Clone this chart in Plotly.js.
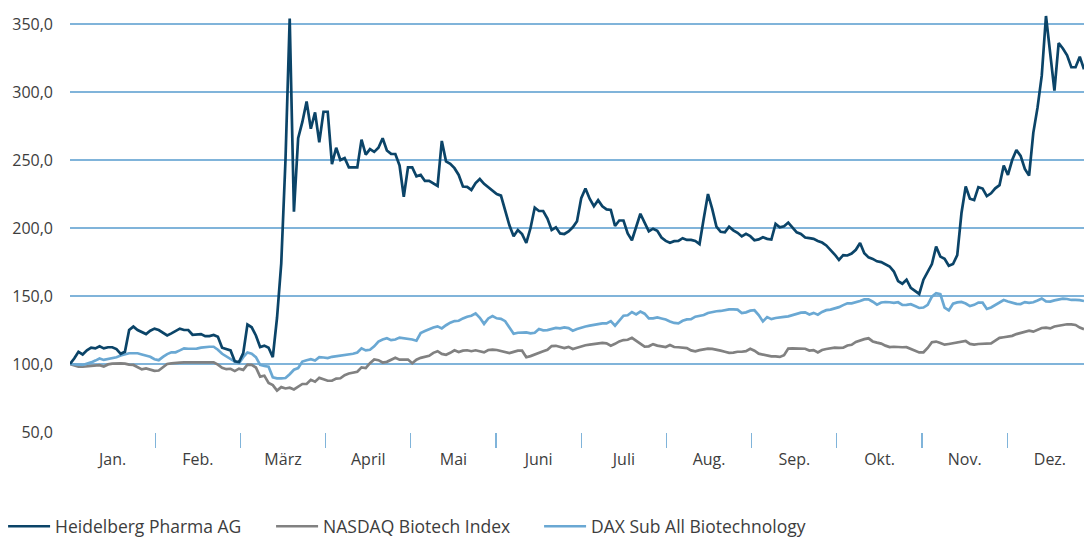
<!DOCTYPE html>
<html>
<head>
<meta charset="utf-8">
<script src="https://cdn.plot.ly/plotly-3.0.1.min.js"></script>
<style>
  html, body { margin: 0; padding: 0; background: #ffffff; }
  #chart { width: 1084px; height: 540px; }
</style>
</head>
<body>
<div id="chart"></div>
<script>
// Month labels (each month gets an equal-width slot on the axis)
const months = ["Jan.", "Feb.", "März", "April", "Mai", "Juni", "Juli", "Aug.", "Sep.", "Okt.", "Nov.", "Dez."];

// Series names
const seriesNames = ["Heidelberg Pharma AG", "NASDAQ Biotech Index", "DAX Sub All Biotechnology"];

// Indexed performance (start = 100), evenly spaced observations from early Jan. to late Dez.
const heidelberg = [
  100, 104, 109, 107, 110, 112, 111.5, 113, 111.5, 112.3, 112.3, 111, 107.5, 109, 125, 127.5, 125, 123.5, 122, 124.5,
  126, 125, 123, 121, 122.5, 124.5, 126, 125, 125, 121.5, 121.5, 122, 120.5, 120.5, 121.3, 120, 112, 111, 110, 102,
  101.5, 108, 129, 127, 121, 112.5, 113.5, 112, 105, 134, 174, 250, 354, 212, 266, 278, 293, 273, 285, 263,
  285.5, 285.5, 247, 259, 250, 251.5, 244.6, 244.6, 244.6, 265, 254, 258, 256, 259, 266, 257, 254.5, 254.4, 246, 223,
  244.6, 244.6, 238, 239, 234.6, 234.6, 233, 230.9, 264, 249, 247.2, 244, 239, 230.5, 230.3, 228, 233, 236, 232.5, 230,
  228, 225, 223.8, 213, 202, 194, 198.5, 195.5, 189, 200, 215, 212.5, 212.5, 207, 198.5, 200.5, 196, 195.6, 197.5, 200.5,
  205, 222, 229, 221.5, 216, 220.5, 216, 213.7, 213.3, 201.5, 205.5, 205.5, 196, 191, 200, 210.5, 204, 197.5, 199.5, 198,
  193, 190.5, 189.2, 190.3, 190.5, 192.5, 191.2, 191.2, 190.5, 188.2, 207, 225, 214, 201, 197.2, 196.8, 201, 198.3, 196.5, 193.8,
  195.7, 194, 191, 191.6, 193.2, 192, 191.5, 203, 200.5, 201.3, 204, 200.5, 196.8, 195.6, 193, 192.5, 192, 190.5, 189.3, 187.2,
  184.2, 180.5, 176.5, 180, 179.8, 181.2, 184, 189, 181.5, 178.4, 177.3, 175.5, 174.9, 173.4, 171.7, 168, 161, 159, 162, 156,
  153.4, 151.5, 162, 167.5, 173.5, 186.3, 179, 177.3, 172.2, 173.5, 180, 211, 230.5, 221.5, 220.5, 230, 229, 223.5, 225.5, 229.2,
  231.5, 246, 239, 250, 257.3, 253, 243.5, 238.5, 270, 288.5, 312, 355.9, 330, 301, 336, 332, 327, 318.2, 318.2, 326,
  316.7
];

const nasdaq = [
  100, 99, 98, 98, 98.3, 98.8, 99.1, 99.2, 98.2, 99.7, 100.3, 100.5, 100.5, 100.3, 99.5, 99.3, 97.5, 96, 96.7, 96.1,
  95, 95.2, 97.4, 100, 100.5, 100.5, 101, 101.2, 101.2, 101.2, 101.2, 101.2, 101.5, 101.7, 101.3, 99.5, 97.2, 96.2, 96.5, 94.8,
  96.6, 95.7, 99.5, 99.3, 97.4, 90.7, 91.4, 86, 84.5, 80.5, 83, 82, 82.6, 81.3, 83, 85.3, 85.3, 88.4, 87, 89.8,
  88.8, 87.7, 87.7, 89.3, 89.5, 91.8, 93, 93.8, 94.3, 97.5, 97, 100.6, 103.4, 102.8, 101.1, 101.6, 102.8, 104.6, 103.2, 103.1,
  103.3, 100.6, 103.2, 104.5, 105.1, 106, 108.2, 109.4, 107.4, 106.8, 108.2, 110.1, 108.8, 109.8, 110.1, 109.4, 110.1, 109.3, 108.6, 110.3,
  110.6, 110.3, 109.4, 108.8, 108, 108.9, 109.8, 109.8, 105, 105.8, 107.1, 108.6, 109.3, 110.5, 113.2, 113.4, 112.8, 111.7, 112.6, 111,
  111.9, 113, 113.8, 114.2, 114.6, 115.3, 115.5, 115.2, 113.5, 114.8, 116.6, 117.6, 117.8, 119.2, 116.8, 115, 112.7, 113, 114.6, 113.5,
  112.8, 112.5, 114, 112.5, 112.3, 112.1, 111.7, 110, 109.3, 110.2, 110.8, 111.3, 111.1, 110.2, 109.8, 109, 108.2, 108.4, 109, 109,
  109.5, 111.2, 109.8, 107.6, 107, 106.4, 105.6, 105.6, 105.2, 106.5, 111.3, 111.5, 111.5, 111.5, 111.2, 109.9, 110.2, 108.5, 110.3, 111,
  111.5, 112, 111.8, 112, 113.6, 114.1, 116.2, 117.3, 118.3, 118.9, 116.6, 115.7, 115, 113.5, 112.4, 112.7, 112.3, 112.3, 112.4, 111.2,
  109.8, 108.5, 108.6, 111.8, 116, 116.5, 115.5, 114.2, 114.7, 115.3, 116, 116.5, 116.9, 114.8, 114.3, 114.7, 114.7, 114.9, 115.2, 117.2,
  119.2, 119.7, 120.3, 120.7, 122, 122.9, 123.8, 124.5, 123.8, 125.3, 126.5, 126.7, 126.2, 127.6, 128.3, 128.7, 129.2, 129.1, 128.7, 126.8,
  125.5
];

const daxBiotech = [
  100, 100, 99.5, 99.3, 100, 101.2, 102.5, 104, 103, 103.5, 104.2, 105, 106.2, 107, 107.9, 107.9, 107.9, 107, 106, 105.3,
  103.5, 102.8, 105.2, 107.3, 108.6, 108.6, 110, 111.5, 111.2, 111, 111.3, 112, 112.5, 112.7, 112.7, 110.5, 107.5, 105.5, 104, 101.8,
  100.5, 105, 108.5, 107.5, 105, 99.3, 98.5, 98, 90.2, 89.5, 89.5, 89.7, 92.5, 95.8, 97, 101.8, 102.8, 103.6, 102.5, 105,
  104.8, 104.3, 105.3, 105.8, 106, 106.6, 106.8, 107.5, 108.5, 111.5, 110, 110.5, 113, 116.5, 118, 118.9, 117.5, 118, 119.4, 119,
  118.5, 118, 117.1, 122.8, 124.2, 125.7, 126.8, 127.7, 126.2, 128.5, 130.4, 131.6, 131.8, 133.5, 134.8, 135.5, 137.2, 134, 129.5, 133.5,
  135.3, 133.6, 133.2, 131.5, 127, 122.2, 123, 123.3, 123.3, 122.6, 123, 125.8, 124.8, 124.9, 125.8, 126.6, 126.2, 126.9, 126.4, 124.5,
  125.8, 126.8, 127.6, 128.2, 128.8, 129.6, 129.9, 129.9, 131.5, 128.2, 131.8, 135.5, 135.8, 138.2, 136.5, 138.5, 137, 133.6, 133.6, 134.2,
  133.5, 132.7, 131.3, 130.2, 129.9, 131.8, 132.8, 132.9, 134.8, 135.5, 136, 137.5, 138.2, 138.8, 139, 139.6, 140.1, 140.2, 140, 137.5,
  138, 139.2, 139.5, 136, 131.3, 134.5, 133, 133.8, 134.4, 134.6, 135, 136, 136.8, 137.8, 138, 136.4, 137.6, 136.3, 138.3, 139.6,
  140, 140.8, 141.8, 143.3, 144.6, 144.6, 145.2, 146.3, 147.5, 147.6, 145.8, 143.6, 145.2, 145.6, 145.4, 145, 145.4, 143.4, 143.5, 144,
  142.6, 141.2, 141.5, 143.5, 149.5, 152, 151.3, 141.4, 139.4, 144.3, 145.3, 145.6, 144.5, 142.6, 143.5, 145.1, 145.1, 140.5, 141.6, 143.2,
  144.8, 147, 146, 145, 144.2, 144.1, 145.5, 145, 145.4, 146.7, 148.2, 146, 145.9, 146.8, 147.6, 148, 147.8, 147.1, 147.1, 147,
  146.3
];

// The series runs from the first trading day of Jan. to the last trading day shown (late Dez.)
const lastPosition = 11.9; // in months

function monthPositions(values) {
  const n = values.length - 1;
  return values.map((_, i) => i * lastPosition / n);
}

const colors = ["#0b4468", "#818181", "#6aa8d3"];
const seriesValues = [heidelberg, nasdaq, daxBiotech];

const traces = seriesValues.map((vals, k) => ({
  type: "scatter",
  mode: "lines",
  name: seriesNames[k],
  x: monthPositions(vals),
  y: vals,
  line: { color: colors[k], width: 2.7 },
  legendrank: k + 1,
  hoverinfo: "skip"
}));
// lighter lines underneath, Heidelberg on top; legend keeps the original order via legendrank
const ordered = [traces[1], traces[2], traces[0]];

const gridColor = "#80b4da";
const textColor = "#3d3d3d";
const fontFamily = "'Open Sans', 'Noto Sans', sans-serif";

const layout = {
  width: 1084,
  height: 540,
  margin: { l: 70, r: 0, t: 10, b: 108, autoexpand: false },
  paper_bgcolor: "#ffffff",
  plot_bgcolor: "#ffffff",
  separators: ",.",
  font: { family: fontFamily, size: 16, color: textColor },
  showlegend: true,
  legend: {
    orientation: "h",
    x: -0.066,
    xanchor: "left",
    y: -0.181,
    yanchor: "top",
    traceorder: "normal",
    entrywidth: 211,
    entrywidthmode: "pixels",
    itemwidth: 42,
    font: { family: fontFamily, size: 17.5, color: textColor },
    bgcolor: "rgba(0,0,0,0)"
  },
  xaxis: {
    range: [0, lastPosition],
    tickmode: "array",
    tickvals: months.map((_, i) => i + 0.5),
    ticktext: months,
    ticks: "",
    ticklabelstandoff: 16,
    showgrid: false,
    zeroline: false,
    showline: false,
    fixedrange: true,
    minor: {
      tickmode: "array",
      tickvals: months.slice(1).map((_, i) => i + 1),
      ticks: "outside",
      ticklen: 15,
      tickwidth: 1.2,
      tickcolor: gridColor,
      showgrid: false
    },
    tickfont: { family: fontFamily, size: 16, color: textColor }
  },
  yaxis: {
    range: [50, 360.3],
    tickmode: "array",
    tickvals: [50, 100, 150, 200, 250, 300, 350],
    tickformat: ".1f",
    showgrid: true,
    gridcolor: gridColor,
    gridwidth: 1.2,
    zeroline: false,
    showline: false,
    ticks: "",
    ticklabelstandoff: 16,
    fixedrange: true,
    tickfont: { family: fontFamily, size: 16, color: textColor }
  }
};

Plotly.newPlot("chart", ordered, layout, { displayModeBar: false, staticPlot: true });
</script>
</body>
</html>
